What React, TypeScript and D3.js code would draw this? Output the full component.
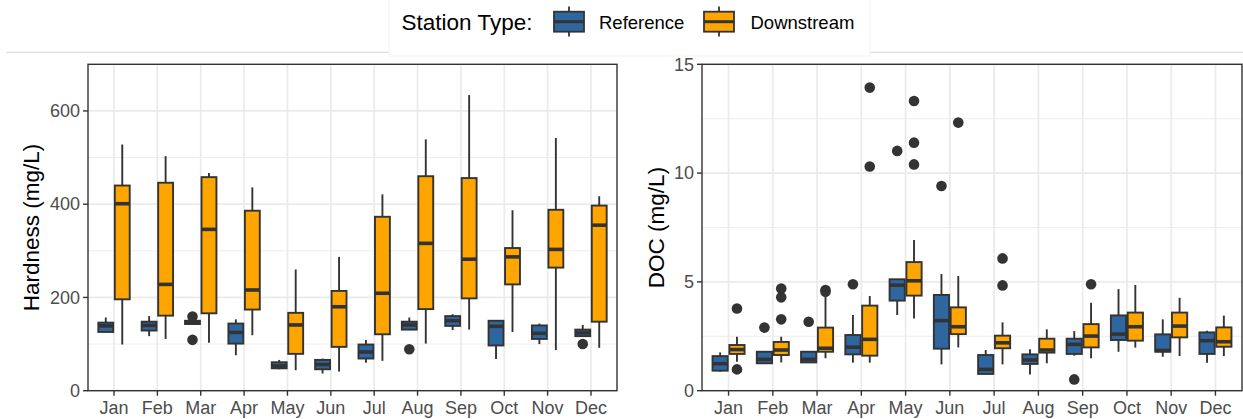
import React from 'react';
import * as d3 from 'd3';

const months = ['Jan', 'Feb', 'Mar', 'Apr', 'May', 'Jun', 'Jul', 'Aug', 'Sep', 'Oct', 'Nov', 'Dec'];
const stationTypes = ['Reference', 'Downstream'];
const stationColors = ['#2E67A0', '#FFA500'];

// [lower whisker, Q1, median, Q3, upper whisker]
const hardnessReference: number[][] = [
  [126, 126, 139, 146, 157], [117, 129, 140, 148, 160], [143, 143, 146, 150, 150],
  [76, 101, 125, 144, 153], [46, 48, 53, 61, 66], [37, 46, 56, 66, 69],
  [60, 69, 83, 99, 109], [131, 131, 141, 148, 157], [130, 139, 150, 160, 164],
  [68, 97, 138, 150, 150], [100, 111, 123, 140, 144], [117, 117, 124, 131, 141],
];
const hardnessReferenceOutliers: number[][] = [[], [], [159, 109], [], [], [], [], [89], [], [], [], [100]];

const hardnessDownstream: number[][] = [
  [99, 196, 401, 440, 528], [111, 161, 228, 446, 503], [103, 166, 346, 458, 467],
  [119, 174, 216, 386, 436], [44, 79, 141, 167, 260], [41, 94, 180, 214, 287],
  [64, 121, 209, 373, 421], [101, 175, 316, 460, 539], [131, 198, 282, 456, 634],
  [126, 228, 287, 306, 387], [87, 264, 303, 388, 542], [92, 148, 355, 397, 417],
];
const hardnessDownstreamOutliers: number[][] = [[], [], [], [], [], [], [], [], [], [], [], []];

const docReference: number[][] = [
  [0.87, 0.92, 1.24, 1.59, 1.76], [1.26, 1.26, 1.44, 1.79, 1.79], [1.30, 1.30, 1.44, 1.79, 1.79],
  [1.29, 1.67, 2.0, 2.56, 3.48], [3.48, 4.14, 4.85, 5.12, 5.13], [1.21, 1.93, 3.22, 4.40, 5.36],
  [0.77, 0.77, 0.98, 1.64, 1.87], [0.75, 1.23, 1.41, 1.67, 1.90], [1.61, 1.69, 2.13, 2.39, 2.74],
  [1.79, 2.33, 2.6, 3.46, 4.67], [1.56, 1.79, 1.85, 2.59, 3.28], [1.29, 1.69, 2.30, 2.68, 2.76],
];
const docReferenceOutliers: number[][] = [[], [2.90], [3.17], [4.89], [11.02], [9.41], [], [], [0.52], [], [], []];

const docDownstream: number[][] = [
  [1.33, 1.69, 1.89, 2.10, 2.48], [1.30, 1.64, 1.87, 2.24, 2.48], [1.49, 1.79, 1.95, 2.90, 4.40],
  [1.29, 1.61, 2.36, 3.91, 4.35], [3.32, 4.37, 5.05, 5.91, 6.93], [1.99, 2.60, 2.94, 3.83, 5.27],
  [1.21, 1.95, 2.2, 2.53, 3.14], [1.26, 1.75, 1.87, 2.39, 2.82], [1.49, 1.99, 2.51, 3.06, 4.04],
  [1.98, 2.30, 2.94, 3.59, 4.86], [1.59, 2.45, 2.97, 3.59, 4.27], [1.59, 2.02, 2.25, 2.91, 3.45],
];
const docDownstreamOutliers: number[][] = [[3.78, 0.98], [4.70, 4.29, 3.28], [4.63, 4.55], [13.93, 10.30], [13.31, 11.40, 10.40], [12.32], [6.08, 4.84], [], [4.89], [], [], []];

const hardnessTicks = [0, 200, 400, 600];
const hardnessMinor = [100, 300, 500];
const docTicks = [0, 5, 10, 15];
const docMinor = [2.5, 7.5, 12.5];

const FONT = "'Liberation Sans', Arial, sans-serif";
const DARK = '#333333';
const GRID = '#EBEBEB';

type PanelProps = {
  x0: number; x1: number; y0: number; y1: number;
  domain: [number, number];
  ticks: number[]; minor: number[];
  series: number[][][]; outliers: number[][][];
  title: string; titleX: number;
};

function Panel({ x0, x1, y0, y1, domain, ticks, minor, series, outliers, title, titleX }: PanelProps) {
  const x = d3.scalePoint<string>().domain(months).range([x0, x1]).padding(0.6);
  const y = d3.scaleLinear().domain(domain).range([y1, y0]);
  const step = x.step();
  const offsets = [-0.19, 0.19];
  const half = 0.172 * step;
  return (
    <g>
      <rect x={x0} y={y0} width={x1 - x0} height={y1 - y0} fill="#fff" />
      {minor.map((v) => (
        <line key={'mn' + v} x1={x0} x2={x1} y1={y(v)} y2={y(v)} stroke={GRID} strokeWidth={0.9} />
      ))}
      {ticks.map((v) => (
        <line key={'mj' + v} x1={x0} x2={x1} y1={y(v)} y2={y(v)} stroke={GRID} strokeWidth={1.7} />
      ))}
      {months.map((m) => (
        <line key={'vx' + m} x1={x(m)!} x2={x(m)!} y1={y0} y2={y1} stroke={GRID} strokeWidth={1.7} />
      ))}
      {series.map((s, si) =>
        s.map((st, mi) => {
          const cx = x(months[mi])! + offsets[si] * step;
          const [lo, q1, med, q3, hi] = st;
          return (
            <g key={`b${si}-${mi}`}>
              <line x1={cx} x2={cx} y1={y(hi)} y2={y(q3)} stroke={DARK} strokeWidth={1.9} />
              <line x1={cx} x2={cx} y1={y(q1)} y2={y(lo)} stroke={DARK} strokeWidth={1.9} />
              <rect x={cx - half} y={y(q3)} width={half * 2} height={Math.max(0.5, y(q1) - y(q3))}
                fill={stationColors[si]} stroke={DARK} strokeWidth={1.9} />
              <line x1={cx - half} x2={cx + half} y1={y(med)} y2={y(med)} stroke={DARK} strokeWidth={3.6} />
              {outliers[si][mi].map((o, oi) => (
                <circle key={oi} cx={cx} cy={y(o)} r={5.3} fill={DARK} />
              ))}
            </g>
          );
        })
      )}
      <rect x={x0} y={y0} width={x1 - x0} height={y1 - y0} fill="none" stroke={DARK} strokeWidth={1.4} />
      {ticks.map((v) => (
        <g key={'yt' + v}>
          <line x1={x0 - 5} x2={x0} y1={y(v)} y2={y(v)} stroke={DARK} strokeWidth={1.4} />
          <text x={x0 - 8} y={y(v)} dy="0.35em" textAnchor="end" fontSize={18} fill="#4D4D4D" fontFamily={FONT}>{v}</text>
        </g>
      ))}
      {months.map((m) => (
        <g key={'xt' + m}>
          <line x1={x(m)!} x2={x(m)!} y1={y1} y2={y1 + 5} stroke={DARK} strokeWidth={1.4} />
          <text x={x(m)!} y={y1 + 23} textAnchor="middle" fontSize={18} fill="#4D4D4D" fontFamily={FONT}>{m}</text>
        </g>
      ))}
      <text transform={`translate(${titleX},${(y0 + y1) / 2}) rotate(-90)`} textAnchor="middle" dy="0.35em"
        fontSize={22.5} fill="#000" fontFamily={FONT}>{title}</text>
    </g>
  );
}

function LegendKey({ x, color }: { x: number; color: string }) {
  return (
    <g>
      <line x1={x + 15} x2={x + 15} y1={6.5} y2={36.5} stroke={DARK} strokeWidth={1.8} />
      <rect x={x} y={11.7} width={30} height={20} fill={color} stroke={DARK} strokeWidth={1.8} />
      <line x1={x} x2={x + 30} y1={21.7} y2={21.7} stroke={DARK} strokeWidth={3} />
    </g>
  );
}

export default function App() {
  return (
    <svg width={1243} height={419} style={{ position: 'absolute', left: 0, top: 0, background: '#fff' }}>
      <rect width={1243} height={419} fill="#fff" />
      <line x1={6} x2={1243} y1={52.3} y2={52.3} stroke="#DEDEDE" strokeWidth={1.2} />
      <rect x={389} y={-1} width={481} height={57} fill="#fff" stroke="#F3F3F3" strokeWidth={1} />
      <text x={401.5} y={29.5} fontSize={22.5} fontFamily={FONT} fill="#000">Station Type:</text>
      <LegendKey x={554} color={stationColors[0]} />
      <text x={599} y={28.5} fontSize={18.5} fontFamily={FONT} fill="#000">{stationTypes[0]}</text>
      <LegendKey x={704} color={stationColors[1]} />
      <text x={750.5} y={28.5} fontSize={18.5} fontFamily={FONT} fill="#000">{stationTypes[1]}</text>
      <Panel x0={88} x1={617} y0={64.3} y1={390.7} domain={[0, 700]} ticks={hardnessTicks} minor={hardnessMinor}
        series={[hardnessReference, hardnessDownstream]} outliers={[hardnessReferenceOutliers, hardnessDownstreamOutliers]}
        title="Hardness (mg/L)" titleX={31} />
      <Panel x0={702} x1={1242} y0={64.3} y1={390.7} domain={[0, 15]} ticks={docTicks} minor={docMinor}
        series={[docReference, docDownstream]} outliers={[docReferenceOutliers, docDownstreamOutliers]}
        title="DOC (mg/L)" titleX={656} />
    </svg>
  );
}
